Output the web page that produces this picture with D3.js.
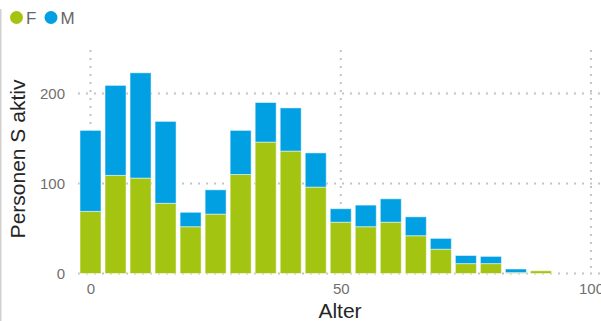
<!DOCTYPE html>
<html><head><meta charset="utf-8">
<script src="https://cdn.jsdelivr.net/npm/d3@7"></script>
<style>body{margin:0;background:#fff}svg{display:block;font-family:"Liberation Sans",Arial,sans-serif}</style>
</head><body><svg id="c" width="601" height="321"></svg>
<script>
const ages = [0,5,10,15,20,25,30,35,40,45,50,55,60,65,70,75,80,85,90];
const F = [69,109,106,78,52,66,110,146,136,96,57,52,57,42,27,11,11,1,3];
const M = [90,100,117,91,16,27,49,44,48,38,15,24,26,21,12,9,8,4,0];
const yTicks = [0,100,200];
const xTicks = [0,50,100];
const seriesNames = ["F","M"];
const colors = {F:"#A4C412", M:"#01A0E2"};

const svg = d3.select("#c");
const x = d3.scaleLinear().domain([0,100]).range([90.5,591]);
const y = d3.scaleLinear().domain([0,200]).range([273.5,93.5]);

svg.append("line").attr("x1",0.75).attr("x2",0.75).attr("y1",9).attr("y2",321).attr("stroke","#d0d0d0").attr("stroke-width",1.5);

const grid = svg.append("g");
grid.selectAll("line.h").data(yTicks).join("line")
  .attr("x1",78).attr("x2",600).attr("y1",d=>y(d)).attr("y2",d=>y(d))
  .attr("stroke","#c4c4c4").attr("stroke-width",2).attr("stroke-dasharray","2,6");
grid.selectAll("line.v").data(xTicks).join("line")
  .attr("x1",d=>x(d)).attr("x2",d=>x(d)).attr("y1",50).attr("y2",y(0))
  .attr("stroke","#c4c4c4").attr("stroke-width",2).attr("stroke-dasharray","2,6");

const data = ages.map((a,i)=>({age:a,F:F[i],M:M[i]}));
const stack = d3.stack().keys(seriesNames)(data);
const bw = 21;
svg.append("g").selectAll("g").data(stack).join("g")
  .attr("fill",d=>colors[d.key])
  .selectAll("rect").data(d=>d.filter(p=>p[1]-p[0]>0)).join("rect")
  .attr("x",d=>x(d.data.age)-bw/2).attr("width",bw)
  .attr("y",d=>y(d[1])).attr("height",d=>y(d[0])-y(d[1]))
  .attr("stroke","#ffffff").attr("stroke-opacity",0.5).attr("stroke-width",1);

const yAxis = d3.axisLeft(y).tickValues(yTicks).tickSize(0).tickPadding(0);
const gy = svg.append("g").attr("transform","translate(65,0)").call(yAxis);
gy.select(".domain").remove();
gy.selectAll("text").attr("fill","#707070").style("font-size","15px").style("font-family","'Liberation Sans',Arial,sans-serif");

const xAxis = d3.axisBottom(x).tickValues(xTicks).tickSize(0).tickPadding(0);
const gx = svg.append("g").attr("transform","translate(0,283)").call(xAxis);
gx.select(".domain").remove();
gx.selectAll("text").attr("fill","#707070").style("font-size","15px").style("font-family","'Liberation Sans',Arial,sans-serif");

svg.append("text").attr("x",340).attr("y",318).attr("text-anchor","middle")
  .attr("fill","#252525").style("font-size","21px").text("Alter");
svg.append("text").attr("transform","translate(25,159) rotate(-90)").attr("text-anchor","middle")
  .attr("fill","#252525").style("font-size","21px").text("Personen S aktiv");

const leg = svg.append("g");
const lx = [16.5,51];
seriesNames.forEach((s,i)=>{
  leg.append("circle").attr("cx",lx[i]).attr("cy",17.5).attr("r",6.5).attr("fill",colors[s]);
  leg.append("text").attr("x",lx[i]+9.5).attr("y",23.5).attr("fill","#666").style("font-size","17px").text(s);
});
</script></body></html>
